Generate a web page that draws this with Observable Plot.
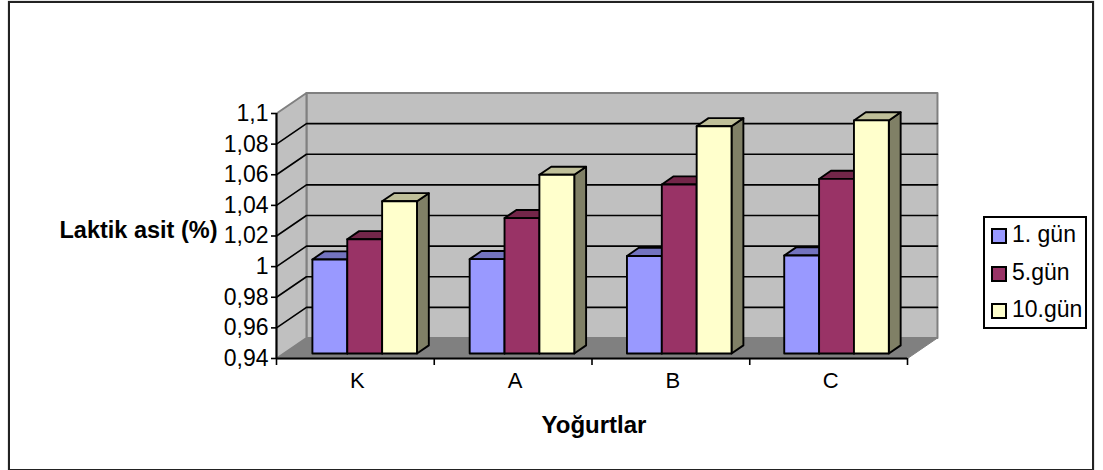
<!DOCTYPE html>
<html>
<head>
<meta charset="utf-8">
<script src="https://cdn.jsdelivr.net/npm/d3@7"></script>
<script src="https://cdn.jsdelivr.net/npm/@observablehq/plot@0.6"></script>
<style>
  html, body { margin: 0; padding: 0; background: #fff; }
  #chart { position: relative; width: 1103px; height: 470px; overflow: hidden; font-family: "Liberation Sans", Arial, sans-serif; }
  #chart svg { position: absolute; left: 0; top: 0; }
  #frame { position: absolute; left: 8px; top: 1px; width: 1082px; height: 466px; border: 2px solid #222; box-shadow: 0 0 1px #777; }
  #legend { position: absolute; left: 983px; top: 216px; width: 100px; height: 109px; border: 2px solid #000; background: #fff; }
  .row { position: absolute; left: 6px; height: 26px; line-height: 26px; font-size: 23px; color: #000; white-space: pre; }
  .row i { display: inline-block; position: absolute; left: 0; top: 5px; width: 12px; height: 12px; border: 2px solid #000; }
  .row span { position: absolute; left: 21px; top: -2px; }
</style>
</head>
<body>
<div id="chart"><div id="frame"></div></div>
<script>
// Lactic acid content of yoghurt samples on storage days 1, 5 and 10.
const categories = ["K", "A", "B", "C"];
const seriesNames = ["1. gün", "5.gün", "10.gün"];
const day1 = [1.0014, 1.0016, 1.0037, 1.004];
const day5 = [1.0146, 1.0284, 1.0504, 1.054];
const day10 = [1.0394, 1.0567, 1.0884, 1.0922];
const yTicks = [0.94, 0.96, 0.98, 1, 1.02, 1.04, 1.06, 1.08, 1.1];

const frontColors = ["#9999ff", "#993366", "#ffffcc"];
const topColors = ["#7373bf", "#732649", "#bfbf99"];
const sideColors = ["#4d4d80", "#4d1a33", "#808066"];

// The oblique projection: one unit of depth moves a point this far in scale units.
const depthX = 0.19;
const depthY = 0.01339;
const yMin = yTicks[0];
const yMax = yTicks[yTicks.length - 1];
const xMax = categories.length;

const project = (x, y, d) => ({x: x + d * depthX, y: y + d * depthY});

// One closed polygon, given as [x, y, depth] corners in scale units.
const face = (corners, fill, stroke, strokeWidth) =>
  Plot.line(corners.map(([x, y, d]) => project(x, y, d)), {
    x: "x", y: "y", curve: "linear-closed", fill, stroke, strokeWidth
  });

const walls = [
  face([[0, yMin, 0], [0, yMin, 1], [xMax, yMin, 1], [xMax, yMin, 0]], "#808080", "#808080", 1),
  face([[0, yMin, 1], [0, yMax, 1], [xMax, yMax, 1], [xMax, yMin, 1]], "#c0c0c0", "#808080", 2),
  face([[0, yMin, 0], [0, yMax, 0], [0, yMax, 1], [0, yMin, 1]], "#c0c0c0", "#808080", 2)
];

// Gridlines run back along the side wall, then across the back wall.
const gridTicks = yTicks.slice(1, -1);
const gridlines = gridTicks.map((v) =>
  Plot.line([project(0, v, 0), project(0, v, 1), project(xMax, v, 1)], {
    x: "x", y: "y", stroke: "#000", strokeWidth: 1.6
  })
);

// Bars sit inside the category slot and part way into the depth.
const slotInset = 0.181;
const barWidth = 0.221;
const depthFront = 0.245;
const depthBack = 0.64;
const outline = 1.9;

const bars = [];
categories.forEach((_, i) => {
  [day1, day5, day10].forEach((values, s) => {
    const v = values[i];
    const x0 = i * 0.997 + slotInset + s * barWidth;
    const x1 = x0 + barWidth;
    bars.push(face([[x1, yMin, depthFront], [x1, v, depthFront], [x1, v, depthBack], [x1, yMin, depthBack]], sideColors[s], "#000", outline));
    bars.push(face([[x0, v, depthFront], [x0, v, depthBack], [x1, v, depthBack], [x1, v, depthFront]], topColors[s], "#000", outline));
    bars.push(face([[x0, yMin, depthFront], [x0, v, depthFront], [x1, v, depthFront], [x1, yMin, depthFront]], frontColors[s], "#000", outline));
  });
});

const slots = d3.range(categories.length + 1);
const comma = (d) => String(d).replace(".", ",");

const plot = Plot.plot({
  width: 1103,
  height: 470,
  marginLeft: 276,
  marginRight: 196,
  marginTop: 113,
  marginBottom: 112,
  style: {background: "transparent", overflow: "visible", fontFamily: "'Liberation Sans', Arial, sans-serif", color: "#000"},
  x: {type: "linear", domain: [0, xMax], axis: null},
  y: {type: "linear", domain: [yMin, yMax]},
  marks: [
    ...walls,
    ...gridlines,
    ...bars,
    Plot.ruleX([0], {y1: yMin, y2: yMax, stroke: "#000", strokeWidth: 2}),
    Plot.ruleY([yMin], {x1: 0, x2: xMax, stroke: "#000", strokeWidth: 2}),
    Plot.axisY({ticks: yTicks, tickFormat: comma, tickSize: 5, tickPadding: 3, fontSize: 23, strokeWidth: 1.6, label: null}),
    Plot.ruleX(slots, {x: (d) => d, y1: yMin, y2: yMin, stroke: "#000", strokeWidth: 1.6, insetBottom: -7}),
    Plot.text(categories, {x: (_, i) => i + 0.5, frameAnchor: "bottom", dx: 2, dy: 29, text: (d) => d, fontSize: 22}),
    Plot.text(["Laktik asit (%)"], {frameAnchor: "left", textAnchor: "end", dx: -59, dy: -6, text: (d) => d, fontSize: 23.5, fontWeight: "bold"}),
    Plot.text(["Yoğurtlar"], {frameAnchor: "bottom", dx: 2, dy: 74, text: (d) => d, fontSize: 24, fontWeight: "bold"})
  ]
});

const chart = document.getElementById("chart");
chart.appendChild(plot);

// The frame and legend box sit above the plot's svg.
const frame = document.getElementById("frame");
chart.appendChild(frame);
const legend = d3.select(chart).append("div").attr("id", "legend");
seriesNames.forEach((name, s) => {
  const row = legend.append("div").attr("class", "row").style("top", `${5 + s * 37.5}px`);
  row.append("i").style("background", frontColors[s]);
  row.append("span").text(name);
});
</script>
</body>
</html>
